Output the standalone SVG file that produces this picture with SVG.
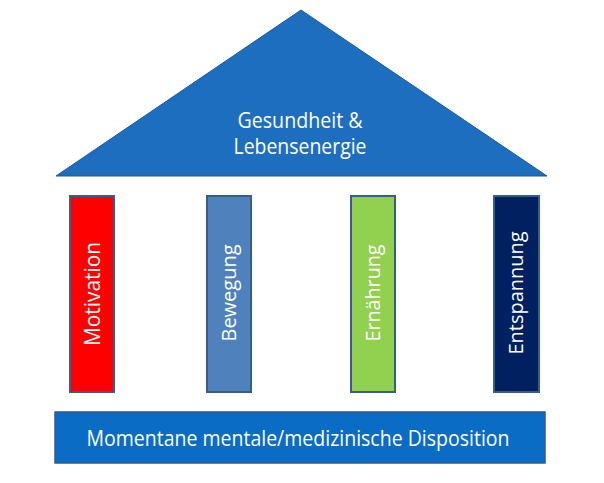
<svg xmlns="http://www.w3.org/2000/svg" width="604" height="483" viewBox="0 0 604 483">
<style>
.lbl{font-family:"Open Sans","Liberation Sans",sans-serif;fill:#ffffff;text-anchor:middle}
.pil{stroke:#385D8A;stroke-width:2}
</style>
<rect width="604" height="483" fill="#ffffff"/>
<g id="roof">
<polygon points="301,10 547,176 56,176" fill="#1E6EC0" stroke="#1A5A9E" stroke-width="1"/>
<text class="lbl" x="300" y="128" font-size="21" textLength="125" lengthAdjust="spacingAndGlyphs">Gesundheit &amp;</text>
<text class="lbl" x="300" y="154" font-size="21" textLength="133" lengthAdjust="spacingAndGlyphs">Lebensenergie</text>
</g>
<g id="motivation">
<rect class="pil" x="70" y="196" width="44" height="196" fill="#FF0000"/>
<text class="lbl" transform="translate(100,294) rotate(-90)" font-size="21" textLength="104" lengthAdjust="spacingAndGlyphs">Motivation</text>
</g>
<g id="bewegung">
<rect class="pil" x="207" y="196" width="44" height="196" fill="#4F81BD"/>
<text class="lbl" transform="translate(236,293) rotate(-90)" font-size="20" textLength="97" lengthAdjust="spacingAndGlyphs">Bewegung</text>
</g>
<g id="ernaehrung">
<rect class="pil" x="351" y="196" width="44" height="196" fill="#92D050"/>
<text class="lbl" transform="translate(380,293) rotate(-90)" font-size="20" textLength="97" lengthAdjust="spacingAndGlyphs">Ernährung</text>
</g>
<g id="entspannung">
<rect class="pil" x="494" y="196" width="45" height="196" fill="#002060"/>
<text class="lbl" transform="translate(523,293) rotate(-90)" font-size="20" textLength="123" lengthAdjust="spacingAndGlyphs">Entspannung</text>
</g>
<g id="base">
<rect x="55" y="412" width="490" height="51" fill="#0A6CC4" stroke="#2F5C8E" stroke-width="1.5"/>
<text class="lbl" x="298" y="446" font-size="22" textLength="423" lengthAdjust="spacingAndGlyphs">Momentane mentale/medizinische Disposition</text>
</g>
<g id="connectors"/>
</svg>
